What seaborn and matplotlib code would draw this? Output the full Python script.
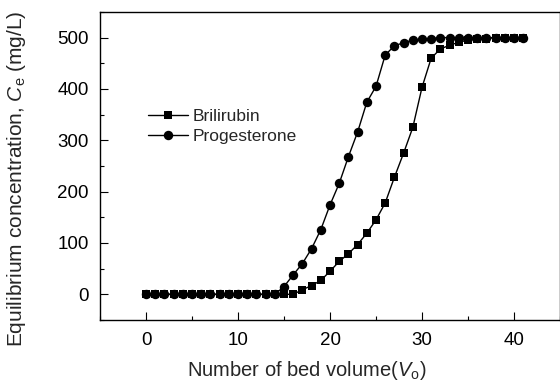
import numpy as np
import pandas as pd
import matplotlib
matplotlib.use("Agg")
import matplotlib.pyplot as plt
from matplotlib.ticker import MultipleLocator
import seaborn as sns

bed_volume = list(range(0, 42))
brilirubin = [0]*17 + [9, 17, 27, 45, 64, 79, 97, 119, 145, 178, 228, 275, 325, 403, 460,
                       478, 485, 491, 495, 497, 498, 500, 500, 500, 500]
progesterone = [0]*15 + [15, 38, 60, 89, 126, 174, 216, 268, 316, 374, 405, 466, 484, 490,
                         495, 497, 498, 500, 500, 500, 500, 500, 500, 500, 500, 500, 500]

sns.set_style("ticks")
plt.rcParams['font.family'] = ['Liberation Sans', 'DejaVu Sans']
plt.rcParams['mathtext.fontset'] = 'custom'
plt.rcParams['mathtext.rm'] = 'Liberation Sans'
plt.rcParams['mathtext.it'] = 'Liberation Sans:italic'

fig = plt.figure(figsize=(5.6, 3.84), dpi=100)
ax = fig.add_axes([0.1786, 0.1667, 0.8214, 0.8023])

sns.lineplot(x=bed_volume, y=brilirubin, ax=ax, color='black', marker='s', markersize=6,
             markeredgewidth=0, linewidth=1, label='Brilirubin')
sns.lineplot(x=bed_volume, y=progesterone, ax=ax, color='black', marker='o', markersize=6.8,
             markeredgewidth=0, linewidth=1, label='Progesterone')

ax.set_xlim(-5, 45)
ax.set_ylim(-50, 550)
ax.xaxis.set_major_locator(MultipleLocator(10))
ax.xaxis.set_minor_locator(MultipleLocator(5))
ax.yaxis.set_major_locator(MultipleLocator(100))
ax.yaxis.set_minor_locator(MultipleLocator(50))
ax.tick_params(which='both', direction='in', colors='black', labelsize=13.5, width=0.8)
ax.tick_params(which='major', length=6)
ax.tick_params(which='minor', length=3)
ax.tick_params(axis='x', pad=9)
ax.tick_params(axis='y', pad=8)
for s in ax.spines.values():
    s.set_visible(True)
    s.set_color('black')
    s.set_linewidth(1)

ax.set_xlabel('Number of bed volume($\\it{V}_{\\rm o}$)', fontsize=14.5)
ax.set_ylabel('Equilibrium concentration, $\\it{C}_{\\rm e}$ (mg/L)', fontsize=15)
ax.xaxis.set_label_coords(0.45, -0.127)
ax.yaxis.set_label_coords(-0.157, 0.46)

ax.legend(loc='center left', bbox_to_anchor=(0.089, 0.628), frameon=False, fontsize=12.5,
          handlelength=2.3, handletextpad=0.3, labelspacing=0.25, borderaxespad=0)

fig.savefig('out.png', dpi=100)
